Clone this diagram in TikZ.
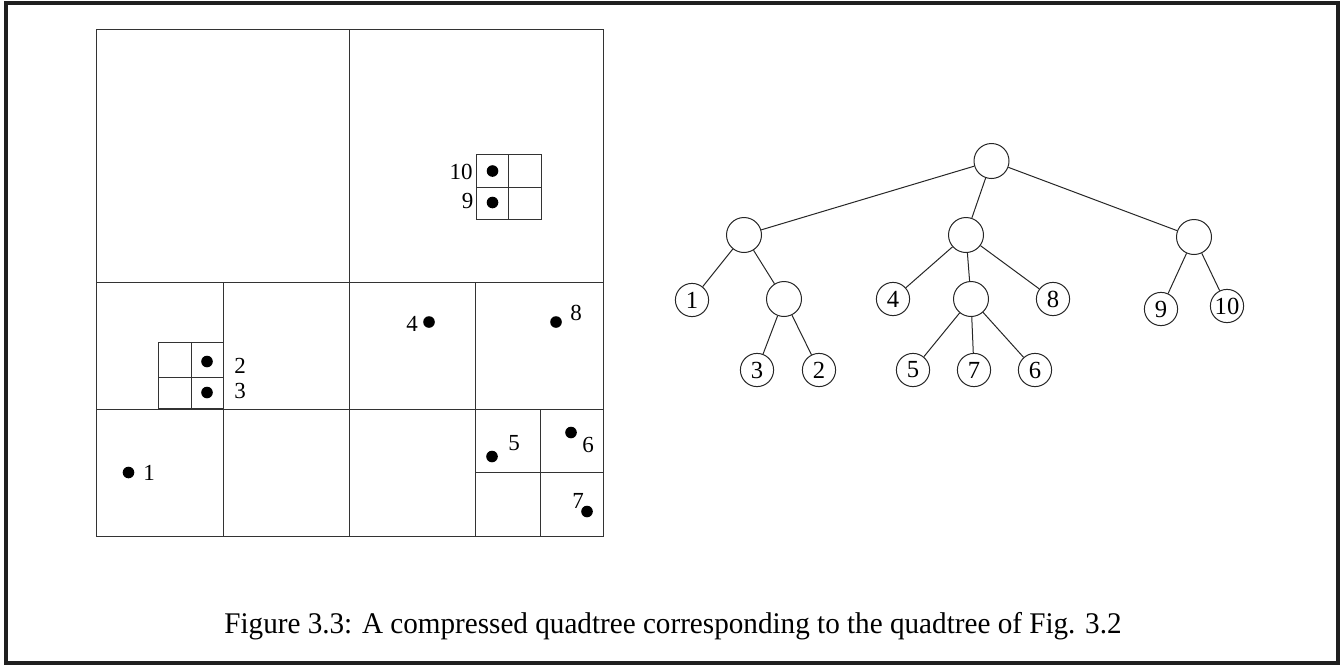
\documentclass[tikz,border=0pt]{standalone}
\usepackage{fontspec}
\setmainfont{Liberation Serif}
\begin{document}
\begin{tikzpicture}[x=0.5pt,y=-0.5pt,
  qline/.style={line width=0.5pt, draw=black!80},
  dot/.style={circle, fill=black, inner sep=0pt, minimum size=5.8pt},
  qlab/.style={inner sep=0pt, font=\fontsize{11.5}{13}\selectfont},
  tn/.style={circle, draw=black!85, line width=0.5pt, inner sep=0pt, minimum size=17.5pt, font=\fontsize{12.3}{14}\selectfont},
  lf/.style={tn, minimum size=16.6pt},
  edge/.style={line width=0.5pt, draw=black!85}]
\useasboundingbox (0,0) rectangle (1340,665);
% frame
\draw[line width=2pt, draw=black!88] (5.5,2.5) rectangle (1338,663);
% quadtree subdivision
\draw[qline] (96,29) rectangle (603,536);
\draw[qline] (349.5,29) -- (349.5,536);
\draw[qline] (96,282.5) -- (603,282.5);
\draw[qline] (96,409) -- (603,409);
\draw[qline] (223,282.5) -- (223,536);
\draw[qline] (475,282.5) -- (475,536);
\draw[qline] (540,409) -- (540,536);
\draw[qline] (475,472.5) -- (603,472.5);
\draw[qline] (158,342) rectangle (223,408);
\draw[qline] (191,342) -- (191,409);
\draw[qline] (158,377) -- (223,377);
\draw[qline] (476,154) rectangle (541,219);
\draw[qline] (508.5,154) -- (508.5,219);
\draw[qline] (476,187) -- (541,187);
% points
\node[dot] (p10) at (492.5,171) {};
\node[dot] (p9) at (492.5,202.5) {};
\node[dot] (p2) at (207,361.5) {};
\node[dot] (p3) at (207,392.5) {};
\node[dot] (p4) at (429,322) {};
\node[dot] (p8) at (556,322) {};
\node[dot] (p5) at (492,456.5) {};
\node[dot] (p6) at (571,432.5) {};
\node[dot] (p7) at (587,511.5) {};
\node[dot] (p1) at (128.5,472.5) {};
% labels
\node[qlab] (l10) at (461,172) {10};
\node[qlab] (l9) at (467.5,201) {9};
\node[qlab] (l2) at (240,366) {2};
\node[qlab] (l3) at (240,391) {3};
\node[qlab] (l4) at (412,324) {4};
\node[qlab] (l8) at (576,313) {8};
\node[qlab] (l5) at (514,443) {5};
\node[qlab] (l6) at (588,445) {6};
\node[qlab] (l7) at (578,501) {7};
\node[qlab] (l1) at (149,473) {1};
% tree
\node[tn] (root) at (991.5,161) {};
\node[tn] (A) at (744,235) {};
\node[tn] (B) at (966,235) {};
\node[tn] (C) at (1194,237) {};
\node[lf] (t1) at (692,300) {1};
\node[tn] (D) at (784,299) {};
\node[lf] (t4) at (893,299) {4};
\node[tn] (E) at (971,299) {};
\node[lf] (t8) at (1053,299) {8};
\node[lf] (t9) at (1161,309) {9};
\node[lf] (t10) at (1227,306) {10};
\node[lf] (t3) at (757,370) {3};
\node[lf] (t2) at (819,370) {2};
\node[lf] (t5) at (913,370) {5};
\node[lf] (t7) at (974,370) {7};
\node[lf] (t6) at (1035,370) {6};
\draw[edge] (root) -- (A);
\draw[edge] (root) -- (B);
\draw[edge] (root) -- (C);
\draw[edge] (A) -- (t1);
\draw[edge] (A) -- (D);
\draw[edge] (D) -- (t3);
\draw[edge] (D) -- (t2);
\draw[edge] (B) -- (t4);
\draw[edge] (B) -- (E);
\draw[edge] (B) -- (t8);
\draw[edge] (E) -- (t5);
\draw[edge] (E) -- (t7);
\draw[edge] (E) -- (t6);
\draw[edge] (C) -- (t9);
\draw[edge] (C) -- (t10);
% caption
\node[anchor=base, inner sep=0pt, font=\fontsize{15}{18}\selectfont] (cap) at (673,633) {\scalebox{0.972}[1]{Figure 3.3: A compressed quadtree corresponding to the quadtree of Fig. 3.2}};
\end{tikzpicture}
\end{document}
